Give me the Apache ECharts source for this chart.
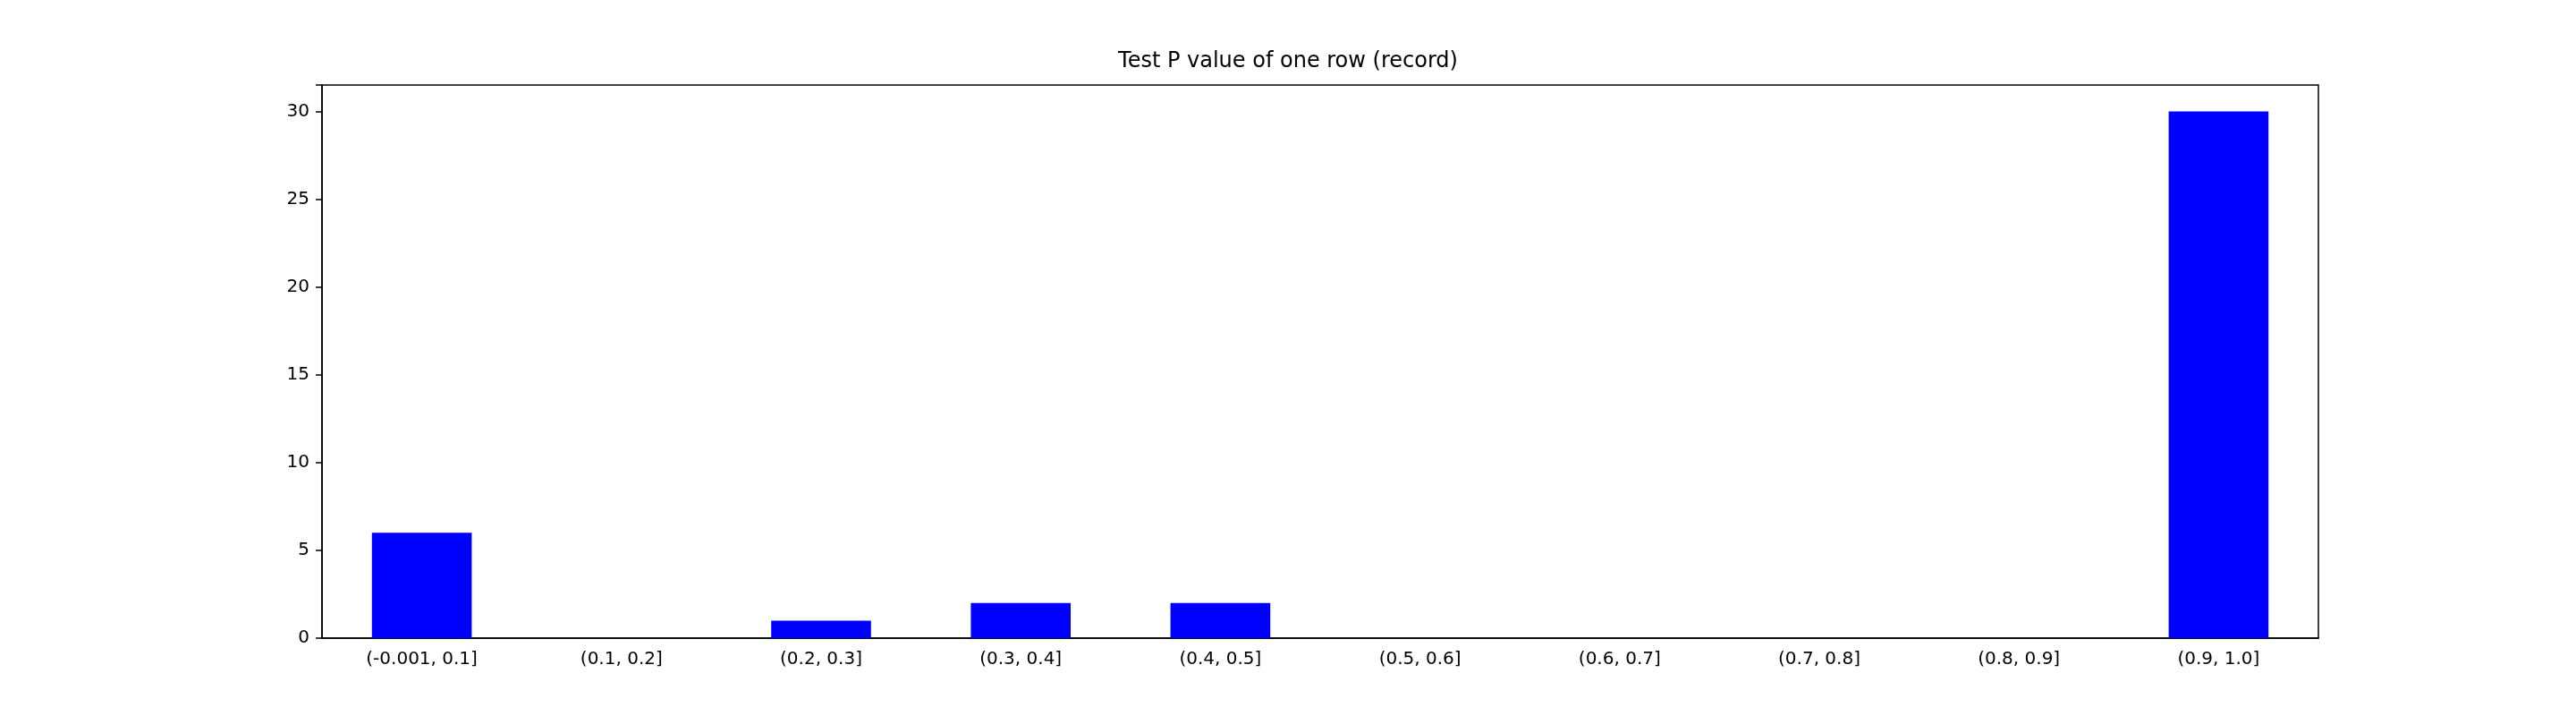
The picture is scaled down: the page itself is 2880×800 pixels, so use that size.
<!DOCTYPE html>
<html>
<head>
<meta charset="utf-8">
<script src="https://cdn.jsdelivr.net/npm/echarts@6/dist/echarts.min.js"></script>
<style>html,body{margin:0;padding:0;background:#fff}#chart{width:2880px;height:800px}</style>
</head>
<body>
<div id="chart"></div>
<script>
const categories = ['(-0.001, 0.1]', '(0.1, 0.2]', '(0.2, 0.3]', '(0.3, 0.4]', '(0.4, 0.5]',
  '(0.5, 0.6]', '(0.6, 0.7]', '(0.7, 0.8]', '(0.8, 0.9]', '(0.9, 1.0]'];
const counts = [6, 0, 1, 2, 2, 0, 0, 0, 0, 30];

const chart = echarts.init(document.getElementById('chart'));
const font = 'DejaVu Sans';
chart.setOption({
  animation: false,
  title: {
    text: 'Test P value of one row (record)',
    left: 'center',
    top: 52,
    textStyle: { fontFamily: font, fontSize: 24, fontWeight: 'normal', color: '#000' }
  },
  grid: {
    left: 360, right: 288, top: 95, bottom: 87,
    show: true, borderColor: '#000', borderWidth: 1.5, backgroundColor: 'transparent'
  },
  xAxis: {
    type: 'category',
    data: categories,
    axisLine: { lineStyle: { color: '#000', width: 1.5 } },
    axisTick: { alignWithLabel: true, length: 7, lineStyle: { color: '#000', width: 1.5 } },
    axisLabel: { fontFamily: font, fontSize: 20, color: '#000', margin: 14, interval: 0 }
  },
  yAxis: {
    type: 'value',
    min: 0, max: 31.5, interval: 5,
    splitLine: { show: false },
    axisLine: { show: true, lineStyle: { color: '#000', width: 1.5 } },
    axisTick: { show: true, length: 7, lineStyle: { color: '#000', width: 1.5 } },
    axisLabel: {
      fontFamily: font, fontSize: 20, color: '#000', margin: 14,
      formatter: v => (v % 5 === 0 ? v : '')
    }
  },
  series: [{
    type: 'bar',
    data: counts,
    barWidth: '50%',
    itemStyle: { color: '#0000ff' }
  }]
});
</script>
</body>
</html>
